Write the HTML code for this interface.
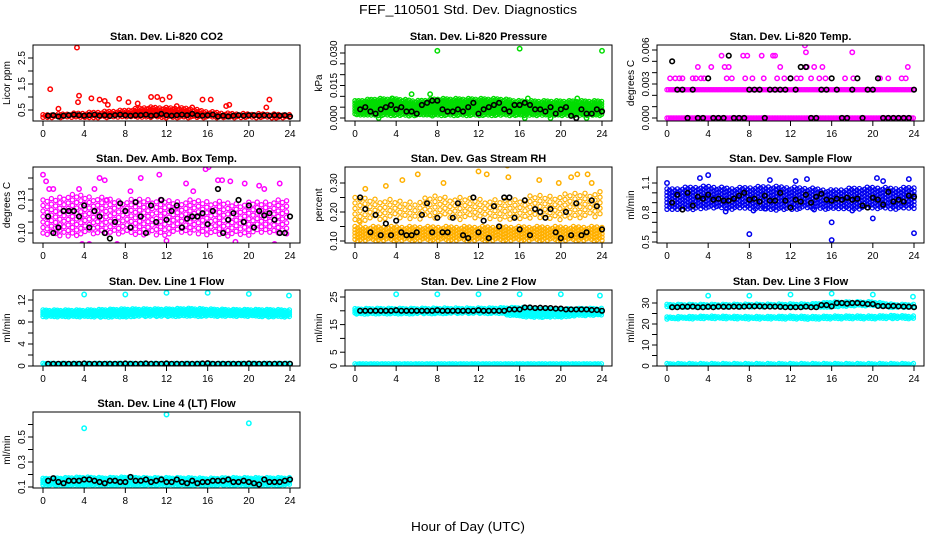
<!DOCTYPE html>
<html><head><meta charset="utf-8">
<style>
html,body{margin:0;padding:0;background:#fff;}
svg{display:block;font-family:"Liberation Sans",sans-serif;}
</style></head>
<body>
<svg id="chart" width="936" height="540" viewBox="0 0 936 540" xmlns="http://www.w3.org/2000/svg">
<rect x="0" y="0" width="936" height="540" fill="#fff"/>
<text x="468" y="14" text-anchor="middle" font-size="13" textLength="218" lengthAdjust="spacingAndGlyphs">FEF_110501  Std. Dev. Diagnostics</text>
<text x="468" y="531" text-anchor="middle" font-size="13" textLength="114" lengthAdjust="spacingAndGlyphs">Hour of Day (UTC)</text>
</svg>
<script>
// ---- shared categories ----
const xTicks = [0,4,8,12,16,20,24];
const bandHours = [0,2,4,6,8,10,12,14,16,18,20,22,24];
const blackHours = [0.5,1,1.5,2,2.5,3,3.5,4,4.5,5,5.5,6,6.5,7,7.5,8,8.5,9,9.5,10,10.5,11,11.5,12,12.5,13,13.5,14,14.5,15,15.5,16,16.5,17,17.5,18,18.5,19,19.5,20,20.5,21,21.5,22,22.5,23,23.5,24];

// ---- P1 CO2 ----
const co2BandLo = [0.2,0.2,0.2,0.2,0.2,0.2,0.2,0.2,0.2,0.2,0.2,0.2,0.2];
const co2BandHi = [0.32,0.36,0.4,0.45,0.5,0.62,0.6,0.58,0.45,0.38,0.36,0.36,0.32];
const co2OutH = [0.7,3.3,3.5,3.4,4.7,5.5,6,7.4,8.3,10.5,11.1,11.6,12.3,15.5,16.3,18.1,21.7,22,1.5,14.5,9.2,13,6.3,17.8];
const co2OutV = [1.3,2.9,1.05,0.8,0.95,0.9,0.85,0.93,0.8,1.0,1.0,0.9,1.0,0.9,0.9,0.7,0.6,0.9,0.55,0.6,0.75,0.65,0.7,0.65];
const co2Black = [0.28,0.3,0.25,0.28,0.3,0.32,0.3,0.28,0.3,0.32,0.28,0.3,0.27,0.3,0.32,0.3,0.28,0.3,0.3,0.32,0.28,0.3,0.35,0.3,0.28,0.3,0.32,0.3,0.35,0.3,0.28,0.3,0.32,0.25,0.28,0.25,0.28,0.3,0.28,0.3,0.3,0.28,0.3,0.28,0.3,0.28,0.3,0.25];
// ---- P2 Pressure ----
const presBandLo = [0.001,0.001,0.001,0.001,0.001,0.001,0.001,0.001,0.001,0.001,0.001,0.001,0.001];
const presBandHi = [0.008,0.009,0.009,0.008,0.009,0.009,0.009,0.009,0.008,0.008,0.008,0.008,0.008];
const presOutH = [8,16,24,5.5,7.3,2.3,16.5,19,22.5,3.6,16.8,21.6];
const presOutV = [0.031,0.032,0.031,0.011,0.011,0,0,0,0,0.009,0.009,0.009];
const presBlack = [0.004,0.005,0.003,0.002,0.004,0.005,0.006,0.004,0.005,0.003,0.003,0.002,0.006,0.007,0.008,0.008,0.004,0.003,0.003,0.004,0.003,0.005,0.007,0.002,0.004,0.005,0.006,0.007,0.004,0.003,0.006,0.006,0.007,0.006,0.004,0.004,0.003,0.005,0.002,0.004,0.005,0.001,0,0.004,0.002,0.002,0.004,0.003];
// ---- P3 Temp ----
const tempBandLo = [0,0,0,0,0,0,0,0,0,0,0,0,0];
const tempBandHi = [0,0,0,0,0,0,0,0,0,0,0,0,0];
const tempBand2Lo = [0.0025,0.0025,0.0025,0.0025,0.0025,0.0025,0.0025,0.0025,0.0025,0.0025,0.0025,0.0025,0.0025];
const tempBand2Hi = [0.0025,0.0025,0.0025,0.0025,0.0025,0.0025,0.0025,0.0025,0.0025,0.0025,0.0025,0.0025,0.0025];
const tempOutH = [0.3,0.8,1.2,1.5,2.5,2.8,3,3.3,3.6,4.3,5.3,5.6,5.8,6,6.3,7.4,7.6,7.8,8.3,9.2,9.4,10.3,10.5,10.7,11,11.4,12,12.6,13,13.4,13.5,13.6,14,14.3,14.8,15.1,15.4,17.3,18,18.1,20.7,21.5,22.8,23.2,23.4];
const tempOutV = [0.0035,0.0035,0.0035,0.0035,0.0035,0.0035,0.0045,0.0035,0.0035,0.0045,0.0055,0.0045,0.0035,0.0045,0.0035,0.0055,0.0035,0.0055,0.0035,0.0055,0.0035,0.0055,0.0055,0.0035,0.0045,0.0035,0.0035,0.0035,0.0035,0.0064,0.0058,0.0045,0.0035,0.0045,0.0035,0.0045,0.0035,0.0035,0.0058,0.0035,0.0035,0.0035,0.0035,0.0035,0.0045];
const tempBlack = [0.005,0.0025,0.0025,0,0.0025,0,0,0.0035,0,0,0,0.0055,0,0,0,0.0025,0.0025,0.0025,0,0.0025,0.0025,0.0025,0.0025,0.0035,0.0025,0.0045,0.0045,0,0,0.0025,0.0025,0.0035,0.0025,0,0,0.0025,0.0035,0,0.0025,0.0025,0.0035,0,0,0,0,0,0,0.0025];
// ---- P4 Amb Box Temp ----
const ambBandLo = [0.098,0.097,0.098,0.099,0.098,0.097,0.098,0.099,0.098,0.097,0.098,0.099,0.098];
const ambBandHi = [0.13,0.135,0.135,0.132,0.13,0.132,0.13,0.13,0.13,0.128,0.128,0.13,0.13];
const ambOutH = [0,0.3,0.6,1,2.6,3.8,4.5,5.5,6,6.2,8.5,9.5,11.3,13.9,15.8,16.1,17,17.4,18.7,19.6,21,23,22.5,3.5,5,7.2,12,14.6,18.2,21.5];
const ambOutV = [0.153,0.147,0.14,0.14,0.12,0.09,0.09,0.15,0.148,0.13,0.138,0.15,0.153,0.145,0.158,0.16,0.148,0.148,0.092,0.145,0.143,0.145,0.09,0.14,0.14,0.09,0.093,0.138,0.147,0.14];
const ambBlack = [0.115,0.1,0.105,0.12,0.12,0.12,0.115,0.125,0.105,0.12,0.115,0.1,0.095,0.11,0.127,0.12,0.105,0.128,0.115,0.1,0.125,0.11,0.13,0.112,0.12,0.125,0.105,0.113,0.115,0.115,0.118,0.108,0.12,0.14,0.1,0.112,0.118,0.13,0.11,0.125,0.105,0.12,0.116,0.118,0.112,0.1,0.1,0.115];
// ---- P5 Gas Stream RH ----
const rhBandLo = [0.1,0.1,0.1,0.1,0.1,0.1,0.1,0.1,0.1,0.1,0.1,0.1,0.1];
const rhBandHi = [0.15,0.15,0.15,0.15,0.15,0.15,0.15,0.15,0.15,0.15,0.15,0.15,0.15];
const rhBand2Lo = [0.16,0.17,0.18,0.17,0.18,0.17,0.18,0.17,0.17,0.18,0.17,0.18,0.18];
const rhBand2Hi = [0.25,0.25,0.24,0.24,0.26,0.25,0.25,0.24,0.25,0.26,0.26,0.27,0.27];
const rhOutH = [1,3,4.6,6.1,8.6,12,12.8,14.8,14.9,17.9,19.8,21,21.6,22.6,23,0.4];
const rhOutV = [0.28,0.29,0.31,0.33,0.3,0.34,0.33,0.36,0.32,0.31,0.3,0.32,0.33,0.33,0.3,0.17];
const rhBlack = [0.25,0.21,0.13,0.19,0.12,0.16,0.12,0.17,0.13,0.12,0.12,0.13,0.19,0.23,0.13,0.18,0.13,0.13,0.18,0.23,0.12,0.11,0.25,0.13,0.17,0.11,0.22,0.15,0.25,0.25,0.18,0.14,0.24,0.12,0.21,0.2,0.18,0.21,0.13,0.11,0.2,0.12,0.23,0.12,0.13,0.24,0.22,0.14];
// ---- P6 Sample Flow ----
const sfBandLo = [0.83,0.82,0.84,0.83,0.84,0.82,0.83,0.84,0.83,0.83,0.84,0.83,0.84];
const sfBandHi = [1.04,1.06,1.07,1.05,1.06,1.07,1.06,1.05,1.03,1.05,1.06,1.05,1.06];
const sfOutH = [0,3.2,4,8,8.4,10,12.5,13.6,16,16,20,20.4,21,23.5,24,5.7,9.5,14.3,18];
const sfOutV = [1.1,1.15,1.18,0.58,0.82,1.13,1.12,1.14,0.52,0.7,0.74,1.15,1.12,1.14,0.59,0.81,0.84,0.83,0.82];
const sfBlack = [0.9,0.98,0.83,1.0,0.87,0.96,0.94,0.98,0.93,0.94,0.92,0.92,0.94,0.97,1.0,0.93,0.94,0.91,0.97,0.92,0.92,1.0,0.92,0.85,0.93,0.91,0.98,0.9,0.96,0.99,0.93,0.92,0.94,0.93,0.95,0.93,0.94,0.87,0.85,0.95,0.93,0.88,1.01,0.91,0.93,0.91,0.97,0.96];
// ---- P7 Line 1 ----
const l1BandLo = [8.9,8.9,8.9,8.9,8.9,9,9,9,9,9,9,8.9,8.9];
const l1BandHi = [10.2,10.2,10.2,10.3,10.4,10.4,10.4,10.5,10.4,10.3,10.3,10.3,10.2];
const l1Band2Lo = [0.2,0.2,0.2,0.2,0.2,0.2,0.2,0.2,0.2,0.2,0.2,0.2,0.2];
const l1Band2Hi = [0.5,0.5,0.5,0.5,0.5,0.5,0.5,0.5,0.5,0.5,0.5,0.5,0.5];
const l1OutH = [4,8,12,16,20,23.9];
const l1OutV = [13,13,13.3,13.3,13.1,12.8];
const l1Black = [0.4,0.4,0.4,0.4,0.4,0.4,0.4,0.45,0.4,0.4,0.4,0.4,0.4,0.4,0.4,0.45,0.4,0.4,0.4,0.45,0.4,0.4,0.4,0.45,0.4,0.4,0.4,0.4,0.4,0.4,0.45,0.5,0.4,0.4,0.4,0.4,0.4,0.4,0.4,0.45,0.4,0.4,0.4,0.4,0.4,0.4,0.4,0.4];
// ---- P8 Line 2 ----
const l2BandLo = [18.7,18.8,18.8,18.9,18.9,19,19,19,17.8,17.6,17.7,18.2,18.4];
const l2BandHi = [20.8,20.9,20.9,20.9,21,21,21,21.1,21.3,20.7,20.7,20.9,20.9];
const l2Band2Lo = [0.3,0.3,0.3,0.3,0.3,0.3,0.3,0.3,0.3,0.3,0.3,0.3,0.3];
const l2Band2Hi = [0.8,0.8,0.8,0.8,0.8,0.8,0.8,0.8,0.8,0.8,0.8,0.8,0.8];
const l2OutH = [4,8,12,16,20,23.8];
const l2OutV = [26,26,26,26,26,25.5];
const l2Black = [20,20,20,20,20,20,20,20.2,20,20,20,20,20,20,20,20.2,20,20,20,20,20,20,20,20.2,20,20,20,20,20,20.5,20.5,20.5,21.2,21.2,21,21.1,21,21,20.8,20.8,20.5,20.5,20.5,20.5,20.5,20.3,20.3,20];
// ---- P9 Line 3 ----
const l3BandLo = [28,28,28,28,28,28,28,28,28,28.6,28.6,27.8,27.8];
const l3BandHi = [29.4,29.4,29.4,29.4,29.5,29.5,29.6,29.6,30.5,30.6,30.6,29.4,29.4];
const l3Band2Lo = [22.3,22.4,22.5,22.4,22.4,22.3,22.4,22.2,22.4,22.5,22.4,22.5,22.4];
const l3Band2Hi = [23.4,23.6,23.8,23.7,23.6,23.6,23.8,23.6,23.8,23.9,23.8,24.1,23.8];
const l3Band3Lo = [0.3,0.3,0.3,0.3,0.3,0.3,0.3,0.3,0.3,0.3,0.3,0.3,0.3];
const l3Band3Hi = [1.2,1.2,1.2,1.2,1.2,1.2,1.2,1.2,1.2,1.2,1.2,1.2,1.2];
const l3OutH = [4,8,12,16,20,23.9];
const l3OutV = [33.5,33.5,34,34.5,34,33];
const l3Black = [28,28,28.2,28.2,28.3,28,28,28.2,28,28.3,28.2,28.2,28.3,28.2,28.3,28.4,28.4,28.4,28.3,28.3,28.3,28.2,28,28,28,28,28.3,28,28,29,29,28.4,30,30,29.7,30,30,29.8,29.5,29.5,28.6,28.5,28.5,28.6,28.4,28.3,28.2,28];
// ---- P10 Line 4 ----
const l4BandLo = [0.115,0.11,0.112,0.11,0.11,0.112,0.11,0.112,0.11,0.112,0.11,0.11,0.115];
const l4BandHi = [0.17,0.175,0.18,0.175,0.18,0.175,0.175,0.175,0.17,0.175,0.175,0.175,0.175];
const l4OutH = [4,12,20];
const l4OutV = [0.57,0.68,0.61];
const l4Black = [0.15,0.17,0.14,0.13,0.15,0.15,0.15,0.16,0.16,0.15,0.14,0.13,0.15,0.15,0.14,0.14,0.18,0.15,0.15,0.16,0.14,0.15,0.16,0.14,0.14,0.16,0.14,0.13,0.15,0.13,0.14,0.14,0.15,0.15,0.15,0.16,0.14,0.14,0.15,0.14,0.13,0.12,0.16,0.14,0.14,0.14,0.15,0.16];

const NS = "http://www.w3.org/2000/svg";
const svg = document.getElementById('chart');
function mk(tag, attrs, parent){
  const e = document.createElementNS(NS, tag);
  for (const k in attrs) e.setAttribute(k, attrs[k]);
  (parent||svg).appendChild(e);
  return e;
}
function interp(h, arr){
  if (h <= bandHours[0]) return arr[0];
  for (let i=1;i<bandHours.length;i++){
    if (h <= bandHours[i]){
      const t=(h-bandHours[i-1])/(bandHours[i]-bandHours[i-1]);
      return arr[i-1]+(arr[i]-arr[i-1])*t;
    }
  }
  return arr[arr.length-1];
}

const panels = [
 {key:'co2', col:0,row:0,title:'Stan. Dev. Li-820 CO2',ylab:'Licor ppm',cal:[0.5,110,2.5,58],ticks:[0.5,1,1.5,2,2.5],labels:[0.5,1.5,2.5],fmt:1,color:'#ff0000',
  bands:[[co2BandLo,co2BandHi,2.2,2.6]],outH:co2OutH,outV:co2OutV,black:co2Black},
 {key:'pressure', col:1,row:0,title:'Stan. Dev. Li-820 Pressure',ylab:'kPa',cal:[0,118,0.03,53],ticks:[0,0.005,0.01,0.015,0.02,0.025,0.03],labels:[0,0.015,0.03],fmt:3,color:'#00dd00',
  bands:[[presBandLo,presBandHi,1.8,2.6]],outH:presOutH,outV:presOutV,black:presBlack},
 {key:'temp', col:2,row:0,title:'Stan. Dev. Li-820 Temp.',ylab:'degrees C',cal:[0,118,0.006,50],ticks:[0,0.001,0.002,0.003,0.004,0.005,0.006],labels:[0,0.003,0.006],fmt:3,color:'#ff00ff',
  bands:[[tempBandLo,tempBandHi,1.6,3],[tempBand2Lo,tempBand2Hi,1.6,3]],outH:tempOutH,outV:tempOutV,black:tempBlack},
 {key:'amb-box-temp', col:0,row:1,title:'Stan. Dev. Amb. Box Temp.',ylab:'degrees C',cal:[0.10,233,0.13,200],ticks:[0.1,0.11,0.12,0.13,0.14,0.15],labels:[0.10,0.13],fmt:2,color:'#ff00ff',
  bands:[[ambBandLo,ambBandHi,4.2,5.5]],outH:ambOutH,outV:ambOutV,black:ambBlack},
 {key:'gas-stream-rh', col:1,row:1,title:'Stan. Dev. Gas Stream RH',ylab:'percent',cal:[0.10,241,0.30,183],ticks:[0.1,0.15,0.2,0.25,0.3],labels:[0.10,0.20,0.30],fmt:2,color:'#ffb000',
  bands:[[rhBandLo,rhBandHi,2.6,3.2],[rhBand2Lo,rhBand2Hi,5,5.5]],outH:rhOutH,outV:rhOutV,black:rhBlack},
 {key:'sample-flow', col:2,row:1,title:'Stan. Dev. Sample Flow',ylab:'ml/min',cal:[0.5,242,1.1,183],ticks:[0.5,0.6,0.7,0.8,0.9,1.0,1.1],labels:[0.5,0.8,1.1],fmt:1,color:'#0000ee',
  bands:[[sfBandLo,sfBandHi,2.6,3.4]],outH:sfOutH,outV:sfOutV,black:sfBlack},
 {key:'line1-flow', col:0,row:2,title:'Stan. Dev. Line 1 Flow',ylab:'ml/min',cal:[0,366,12,300],ticks:[0,2,4,6,8,10,12],labels:[0,4,8,12],fmt:0,color:'#00ffff',
  bands:[[l1BandLo,l1BandHi,1.6,2.2],[l1Band2Lo,l1Band2Hi,1.6,2.2]],outH:l1OutH,outV:l1OutV,black:l1Black},
 {key:'line2-flow', col:1,row:2,title:'Stan. Dev. Line 2 Flow',ylab:'ml/min',cal:[0,366,25,297],ticks:[0,5,10,15,20,25],labels:[0,5,15,25],fmt:0,color:'#00ffff',
  bands:[[l2BandLo,l2BandHi,1.6,2.2],[l2Band2Lo,l2Band2Hi,1.6,2.2]],outH:l2OutH,outV:l2OutV,black:l2Black},
 {key:'line3-flow', col:2,row:2,title:'Stan. Dev. Line 3 Flow',ylab:'ml/min',cal:[0,366,30,303],ticks:[0,5,10,15,20,25,30],labels:[0,10,20,30],fmt:0,color:'#00ffff',
  bands:[[l3BandLo,l3BandHi,1.6,2.2],[l3Band2Lo,l3Band2Hi,1.6,2.2],[l3Band3Lo,l3Band3Hi,1.6,2.2]],outH:l3OutH,outV:l3OutV,black:l3Black},
 {key:'line4-flow', col:0,row:3,title:'Stan. Dev. Line 4 (LT) Flow',ylab:'ml/min',cal:[0.1,487,0.5,437],ticks:[0.1,0.2,0.3,0.4,0.5,0.6],labels:[0.1,0.3,0.5],fmt:1,color:'#00ffff',
  bands:[[l4BandLo,l4BandHi,1.6,2.2]],outH:l4OutH,outV:l4OutV,black:l4Black},
];

const colLeft = [33,345,657];
const rowTop = [45,167,290,412];
const BW = 267, BH = 76;

panels.forEach(p=>{
  const L = colLeft[p.col], T = rowTop[p.row];
  const g = mk('g',{});
  
  
  const X = h => L + 10 + h*(BW-20)/24;
  const [v1,p1,v2,p2] = p.cal;
  const Y = v => p1 + (v - v1)*(p2-p1)/(v2-v1);
  const cid = 'clip-'+p.key;
  const cp = mk('clipPath',{id:cid},g);
  mk('rect',{x:L,y:T,width:BW,height:BH},cp);
  const marks = mk('g',{'clip-path':'url(#'+cid+')',fill:'none'},g);
  
  
  const jit = [0,0.45,0.15,0.7,0.3,0.85,0.55];
  p.bands.forEach(b=>{
    const [lo,hi,dx,dy] = b;
    let i=0;
    for (let px = X(0); px <= X(24)+0.01; px += dx, i++){
      const h = (px - L - 10)*24/(BW-20);
      const ylo = Y(interp(h,lo)), yhi = Y(interp(h,hi));
      const top = Math.min(ylo,yhi), bot = Math.max(ylo,yhi);
      const off = jit[i%7]*dy;
      let py = top + off;
      if (py > bot) py = top;
      for (; py <= bot+0.01; py += dy){
        const c = mk('circle',{cx:px.toFixed(1),cy:py.toFixed(1),r:2.1,stroke:p.color,'stroke-width':1.2},marks);
        
        
      }
    }
  });
  p.outH.forEach((h,i)=>{
    const c = mk('circle',{cx:X(h),cy:Y(p.outV[i]),r:2.2,stroke:p.color,'stroke-width':1.5},marks);
    
    
  });
  p.black.forEach((v,i)=>{
    const c = mk('circle',{cx:X(blackHours[i]),cy:Y(v),r:2.3,stroke:'#000','stroke-width':1.6},marks);
    
    
  });
  const box = mk('rect',{x:L,y:T,width:BW,height:BH,fill:'none',stroke:'#000','stroke-width':1},g);
  
  
  const t = mk('text',{x:L+BW/2,y:T-5,'text-anchor':'middle','font-size':11,'font-weight':'bold'},g);
  t.textContent = p.title;
  
  
  const yl = mk('text',{x:0,y:0,'text-anchor':'middle','font-size':10,transform:'translate('+(L-23)+','+(T+BH/2)+') rotate(-90)'},g);
  yl.textContent = p.ylab;
  
  
  mk('line',{x1:X(0),x2:X(24),y1:T+BH,y2:T+BH,stroke:'#000'},g);
  xTicks.forEach(h=>{
    mk('line',{x1:X(h),x2:X(h),y1:T+BH,y2:T+BH+5,stroke:'#000'},g);
    const tx = mk('text',{x:X(h),y:T+BH+16,'text-anchor':'middle','font-size':10},g);
    tx.textContent = h;
    
    
  });
  mk('line',{x1:L,x2:L,y1:Y(p.ticks[0]),y2:Y(p.ticks[p.ticks.length-1]),stroke:'#000'},g);
  p.ticks.forEach(v=>{
    mk('line',{x1:L-5,x2:L,y1:Y(v),y2:Y(v),stroke:'#000'},g);
  });
  p.labels.forEach(v=>{
    const ty = mk('text',{x:0,y:0,'text-anchor':'middle','font-size':10,transform:'translate('+(L-8)+','+Y(v)+') rotate(-90)'},g);
    ty.textContent = v.toFixed(p.fmt);
    
    
  });
});
</script>
</body></html>
